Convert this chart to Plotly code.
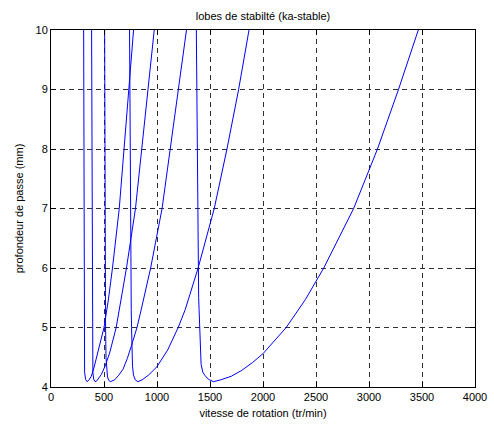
import plotly.graph_objects as go

# ---- data ----
lobe1_rpm = [1371, 1375, 1379, 1384, 1388, 1393, 1397, 1405, 1416, 1432, 1454, 1485, 1532,
             1600, 1700, 1800, 1900, 2000, 2100, 2219, 2400, 2573, 2855, 3080, 3278, 3465]
lobe1_depth = [10, 9, 8, 7, 6, 5.5, 5.3, 4.7, 4.38, 4.25, 4.19, 4.13, 4.09,
               4.12, 4.18, 4.28, 4.41, 4.56, 4.76, 5.0, 5.47, 6, 7, 8, 9, 10]

lobe2_rpm = [741, 743, 745, 750, 754, 757, 760, 765, 769, 778, 795, 820,
             860, 920, 999, 1100, 1200, 1266, 1388, 1540, 1660, 1770, 1868]
lobe2_depth = [10, 9, 8, 7, 6, 5.3, 5.0, 4.6, 4.35, 4.2, 4.12, 4.09,
               4.12, 4.2, 4.34, 4.62, 5.0, 5.3, 6, 7, 8, 9, 10]

lobe3_rpm = [506, 507, 508, 510, 511, 515, 519, 524, 533, 545, 560,
             600, 640, 680, 720, 760, 811, 851, 940, 1048, 1127, 1203, 1278]
lobe3_depth = [10, 9, 8, 7, 6, 5, 4.5, 4.3, 4.17, 4.11, 4.09,
               4.12, 4.2, 4.3, 4.48, 4.7, 5.0, 5.3, 6, 7, 8, 9, 10]

lobe4_rpm = [383, 385, 387, 389, 391, 395, 403, 415, 430, 450, 475, 510,
             553, 615, 660, 712, 797, 856, 915, 974]
lobe4_depth = [10, 8, 6, 5, 4.5, 4.25, 4.13, 4.09, 4.1, 4.15, 4.21, 4.35,
               4.57, 5.0, 5.45, 6, 7, 8, 9, 10]

lobe5_rpm = [308, 309, 310, 311, 313, 317, 326, 340, 355, 380, 405, 427,
             460, 500, 540, 580, 644, 689, 734, 779]
lobe5_depth = [10, 8, 6, 5, 4.5, 4.25, 4.13, 4.09, 4.11, 4.18, 4.32, 4.49,
               4.73, 5.0, 5.45, 6, 7, 8, 9, 10]

x_ticks = [0, 500, 1000, 1500, 2000, 2500, 3000, 3500, 4000]
y_ticks = [4, 5, 6, 7, 8, 9, 10]

title_text = "lobes de stabilté (ka-stable)"
x_label = "vitesse de rotation (tr/min)"
y_label = "profondeur de passe (mm)"

lobes = [(lobe1_rpm, lobe1_depth), (lobe2_rpm, lobe2_depth), (lobe3_rpm, lobe3_depth),
         (lobe4_rpm, lobe4_depth), (lobe5_rpm, lobe5_depth)]

FONT = "Liberation Sans, Arial, Helvetica, sans-serif"

fig = go.Figure()
for xs, ys in lobes:
    fig.add_trace(go.Scatter(x=xs, y=ys, mode="lines",
                             line=dict(color="#0000FF", width=1),
                             showlegend=False, hoverinfo="skip"))

axis_common = dict(
    showline=True, linecolor="black", linewidth=1, mirror="ticks",
    ticks="inside", ticklen=5, tickcolor="black", tickwidth=1,
    showgrid=True, gridcolor="#303030", gridwidth=1, griddash="5px,4px",
    zeroline=False,
    tickfont=dict(family=FONT, size=11, color="black"),
    automargin=False,
)

fig.update_xaxes(range=[0, 4000], tickvals=x_ticks, ticktext=[str(v) for v in x_ticks],
                 title=dict(text=x_label, font=dict(family=FONT, size=11, color="black"),
                            standoff=7),
                 **axis_common)
fig.update_yaxes(range=[4, 10], tickvals=y_ticks, ticktext=[str(v) for v in y_ticks],
                 title=dict(text=y_label, font=dict(family=FONT, size=11, color="black"),
                            standoff=9),
                 **axis_common)

fig.update_layout(
    width=494, height=426,
    margin=dict(l=51, r=19, t=30, b=39, pad=0),
    paper_bgcolor="white", plot_bgcolor="white",
    title=dict(text=title_text, x=0.5, xref="paper", xanchor="center",
               y=1 - 16 / 426, yref="container", yanchor="middle",
               font=dict(family=FONT, size=11, color="black")),
)

fig.write_html("out.html", config={"displayModeBar": False, "staticPlot": True},
               post_script="document.body.style.margin='0';document.body.style.overflow='hidden';")
